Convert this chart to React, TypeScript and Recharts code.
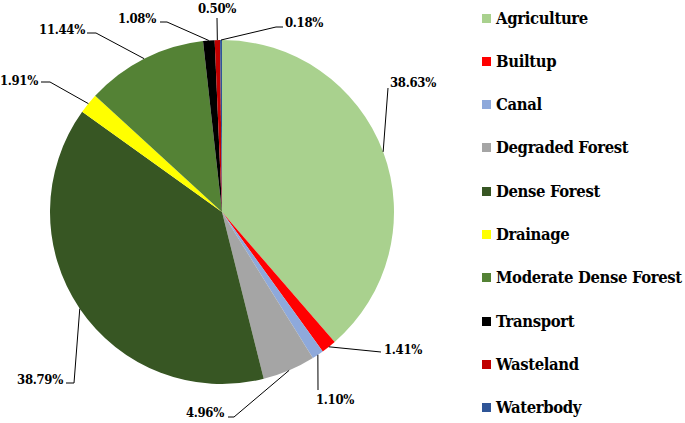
import { PieChart, Pie, Cell, Legend } from "recharts";

const categories = [
  "Agriculture",
  "Builtup",
  "Canal",
  "Degraded Forest",
  "Dense Forest",
  "Drainage",
  "Moderate Dense Forest",
  "Transport",
  "Wasteland",
  "Waterbody",
];
const shares = [38.63, 1.41, 1.1, 4.96, 38.79, 1.91, 11.44, 1.08, 0.5, 0.18];
const colors = [
  "#A9D18E",
  "#FF0000",
  "#8EA9DB",
  "#A5A5A5",
  "#375623",
  "#FFFF00",
  "#548235",
  "#000000",
  "#C00000",
  "#2F5597",
];

const data = categories.map((name, i) => ({ name, value: shares[i] }));

const FONT = '"DejaVu Serif", serif';

// label placement, relative to the pie centre: elbow + end of leader, text spot
const labelSpots = [
  { elbow: null, end: [166, -124], text: [168, -130], anchor: "start" },
  { elbow: null, end: [159, 140], text: [162, 137], anchor: "start" },
  { elbow: null, end: [96, 178], text: [94, 187], anchor: "start" },
  { elbow: [12, 205], end: [6, 205], text: [2, 200], anchor: "end" },
  { elbow: [-148, 171], end: [-156, 171], text: [-159, 167], anchor: "end" },
  { elbow: [-172, -130], end: [-181, -130], text: [-184, -132], anchor: "end" },
  { elbow: [-126, -179], end: [-135, -179], text: [-137, -183], anchor: "end" },
  { elbow: [-55, -190], end: [-62, -190], text: [-66, -194], anchor: "end" },
  { elbow: null, end: [-5, -194], text: [-5, -204], anchor: "middle" },
  { elbow: [54, -185], end: [61, -185], text: [63, -190], anchor: "start" },
];

const RAD = Math.PI / 180;

const renderLabel = (props: any) => {
  const { cx, cy, midAngle, outerRadius, index, value } = props;
  const spot = labelSpots[index];
  const sx = cx + outerRadius * Math.cos(-midAngle * RAD);
  const sy = cy + outerRadius * Math.sin(-midAngle * RAD);
  const pts = [[sx, sy]];
  if (spot.elbow) pts.push([cx + spot.elbow[0], cy + spot.elbow[1]]);
  pts.push([cx + spot.end[0], cy + spot.end[1]]);
  return (
    <g>
      <polyline
        points={pts.map((p) => p.join(",")).join(" ")}
        fill="none"
        stroke="#000"
        strokeWidth={1}
      />
      <text
        x={cx + spot.text[0]}
        y={cy + spot.text[1]}
        textAnchor={spot.anchor}
        dominantBaseline="central"
        style={{ fontFamily: FONT, fontWeight: 700, fontSize: 13, fontStretch: "condensed", letterSpacing: -0.3 }}
        fill="#000"
      >
        {Number(value).toFixed(2)}%
      </text>
    </g>
  );
};

const LegendList = () => (
  <div style={{ position: "relative", width: 215, height: 423 }}>
    {categories.map((name, i) => (
      <div
        key={name}
        style={{
          position: "absolute",
          left: 12,
          top: 18 + i * 43.33 - 11,
          height: 22,
          display: "flex",
          alignItems: "center",
          whiteSpace: "nowrap",
        }}
      >
        <span
          style={{
            display: "inline-block",
            width: 9,
            height: 9,
            background: colors[i],
            marginRight: 5,
          }}
        />
        <span
          style={{
            fontFamily: FONT,
            fontWeight: 700,
            fontSize: 16.5,
            fontStretch: "condensed",
            letterSpacing: -0.35,
            color: "#000",
          }}
        >
          {name}
        </span>
      </div>
    ))}
  </div>
);

export default function App() {
  return (
    <div style={{ position: "absolute", left: 0, top: 0, background: "#fff" }}>
      <PieChart width={685} height={423} margin={{ top: 0, right: 0, bottom: 0, left: 0 }}>
        <Pie
          data={data}
          dataKey="value"
          nameKey="name"
          cx={222}
          cy={212}
          outerRadius={172}
          startAngle={90}
          endAngle={-270}
          stroke="none"
          label={renderLabel}
          labelLine={false}
          isAnimationActive={false}
        >
          {data.map((d, i) => (
            <Cell key={d.name} fill={colors[i]} />
          ))}
        </Pie>
        <Legend
          content={() => <LegendList />}
          wrapperStyle={{ position: "absolute", left: 470, top: 0, width: 215, height: 423 }}
        />
      </PieChart>
    </div>
  );
}
